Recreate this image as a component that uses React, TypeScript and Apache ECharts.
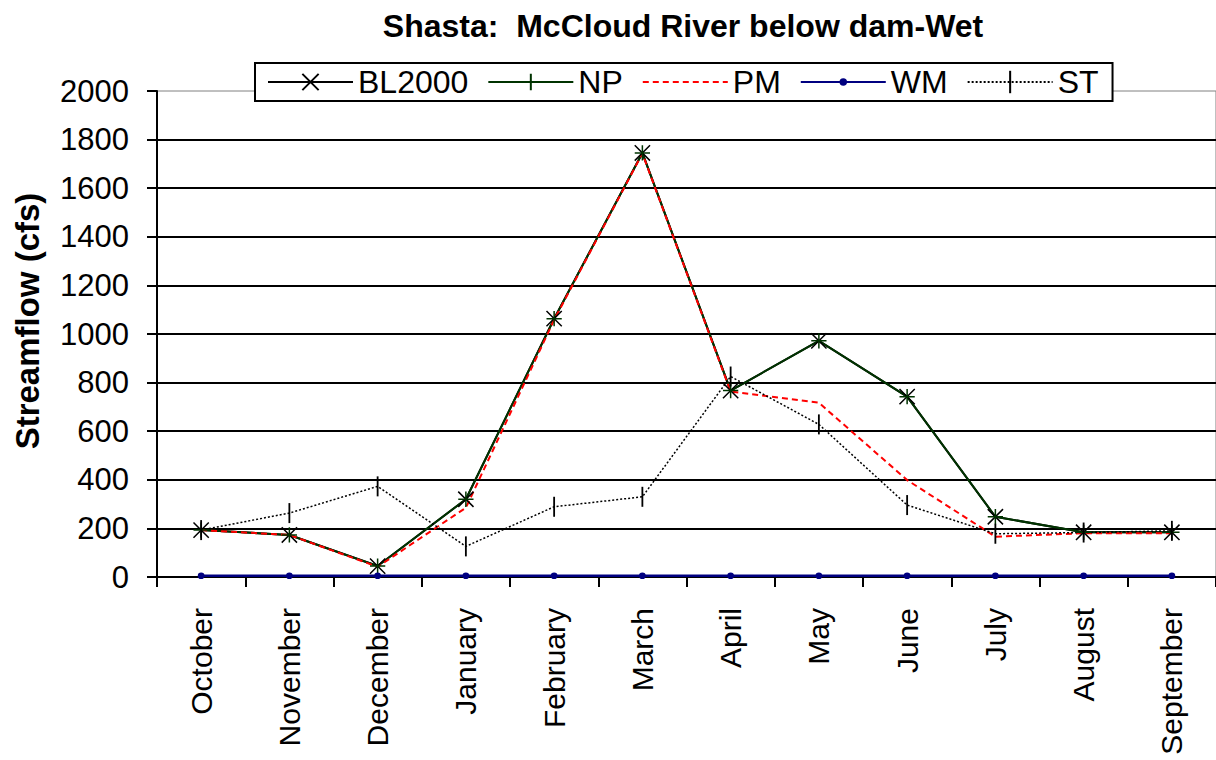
import React, { useEffect, useRef } from "react";
import * as echarts from "echarts";

const months = [
  "October", "November", "December", "January", "February", "March",
  "April", "May", "June", "July", "August", "September",
];
const bl2000 = [193, 173, 45, 320, 1063, 1745, 767, 972, 742, 248, 184, 184];
const np = [193, 173, 45, 320, 1063, 1745, 767, 972, 742, 248, 184, 184];
const pm = [193, 173, 42, 285, 1058, 1743, 763, 717, 399, 166, 180, 180];
const wm = [5, 5, 5, 5, 5, 5, 5, 5, 5, 5, 5, 5];
const st = [193, 263, 373, 126, 289, 330, 825, 628, 296, 178, 183, 190];

const yMin = 0;
const yMax = 2000;
const yStep = 200;

const titleText = "Shasta:  McCloud River below dam-Wet";
const yName = "Streamflow (cfs)";

const FONT = "'Liberation Sans', Arial, Helvetica, sans-serif";

const X_PATH = "path://M-3,-3M19,19M0,0L16,16M16,0L0,16";
const PLUS_PATH = "path://M-3,-3M19,19M8,0L8,16M0,8L16,8";
const DOT_PATH = "path://M0,0M24,24M8,12a4,4 0 1,0 8,0a4,4 0 1,0 -8,0z";
const BAR_PATH = "path://M0,0M22,22M10,0L12,0L12,22L10,22Z";
const NONE_PATH = "path://M0,0M10,10";

export default function App() {
  const ref = useRef<HTMLDivElement>(null);

  useEffect(() => {
    if (!ref.current) return;
    const chart = echarts.init(ref.current, undefined, { renderer: "svg" });
    chart.setOption({
      animation: false,
      backgroundColor: "#fff",
      title: {
        text: titleText,
        left: 678,
        top: 5,
        textAlign: "center",
        textStyle: {
          fontFamily: FONT,
          fontSize: 32,
          fontWeight: "bold",
          color: "#000",
        },
      },
      legend: {
        left: 255,
        top: 63,
        padding: [3, 14, 3, 12],
        borderColor: "#000",
        borderWidth: 2,
        backgroundColor: "#fff",
        itemWidth: 85,
        itemHeight: 28,
        itemGap: 19,
        selectedMode: false,
        data: ["BL2000", "NP", "PM", "WM", "ST"],
        textStyle: { fontFamily: FONT, fontSize: 32, color: "#000" },
      },
      graphic: [
        {
          type: "text",
          x: 27,
          y: 321,
          rotation: Math.PI / 2,
          style: {
            text: yName,
            font: `bold 33px ${FONT}`,
            fill: "#000",
            textAlign: "center",
            textVerticalAlign: "middle",
          },
        },
      ],
      grid: {
        left: 157,
        top: 91,
        right: -8,
        bottom: 183,
        containLabel: false,
        show: true,
        borderColor: "#808080",
        borderWidth: 1,
        backgroundColor: "transparent",
      },
      xAxis: {
        type: "category",
        data: months,
        boundaryGap: true,
        axisLine: { lineStyle: { color: "#000", width: 2 } },
        axisTick: { show: true, length: 10, inside: false, lineStyle: { color: "#000", width: 2 } },
        axisLabel: {
          rotate: 90,
          margin: 31,
          interval: 0,
          fontFamily: FONT,
          fontSize: 30,
          color: "#000",
        },
        splitLine: { show: false },
      },
      yAxis: {
        type: "value",
        min: yMin,
        max: yMax,
        interval: yStep,
        axisLine: { show: true, lineStyle: { color: "#000", width: 2 } },
        axisTick: { show: true, length: 10, inside: false, lineStyle: { color: "#000", width: 2 } },
        axisLabel: {
          margin: 28,
          fontFamily: FONT,
          fontSize: 31,
          color: "#000",
          formatter: (v: number) => String(v),
        },
        splitLine: { show: true, showMaxLine: false, lineStyle: { color: "#000", width: 2 } },
      },
      series: [
        {
          name: "BL2000",
          type: "line",
          data: bl2000,
          symbol: X_PATH,
          symbolSize: 21,
          lineStyle: { color: "#000", width: 2 },
          itemStyle: { color: "#000", borderColor: "#000", borderWidth: 1.5 },
          emphasis: { disabled: true },
        },
        {
          name: "NP",
          type: "line",
          data: np,
          symbol: PLUS_PATH,
          symbolSize: 21,
          lineStyle: { color: "#003300", width: 2 },
          itemStyle: { color: "#003300", borderColor: "#003300", borderWidth: 1.5 },
          emphasis: { disabled: true },
        },
        {
          name: "PM",
          type: "line",
          data: pm,
          symbol: NONE_PATH,
          showSymbol: false,
          lineStyle: { color: "#ff0000", width: 2, type: [6, 4] },
          itemStyle: { color: "rgba(0,0,0,0)", borderWidth: 0 },
          emphasis: { disabled: true },
        },
        {
          name: "WM",
          type: "line",
          data: wm,
          symbol: DOT_PATH,
          symbolSize: 20,
          lineStyle: { color: "#000080", width: 2.5 },
          itemStyle: { color: "#000080", borderWidth: 0 },
          emphasis: { disabled: true },
        },
        {
          name: "ST",
          type: "line",
          data: st,
          symbol: BAR_PATH,
          symbolSize: 20,
          lineStyle: { color: "#000", width: 1.5, type: [2, 2] },
          itemStyle: { color: "#000", borderWidth: 0 },
          emphasis: { disabled: true },
        },
      ],
    });
    return () => chart.dispose();
  }, []);

  return (
    <div
      ref={ref}
      style={{ position: "absolute", left: 0, top: 0, width: 1216, height: 760 }}
    />
  );
}
